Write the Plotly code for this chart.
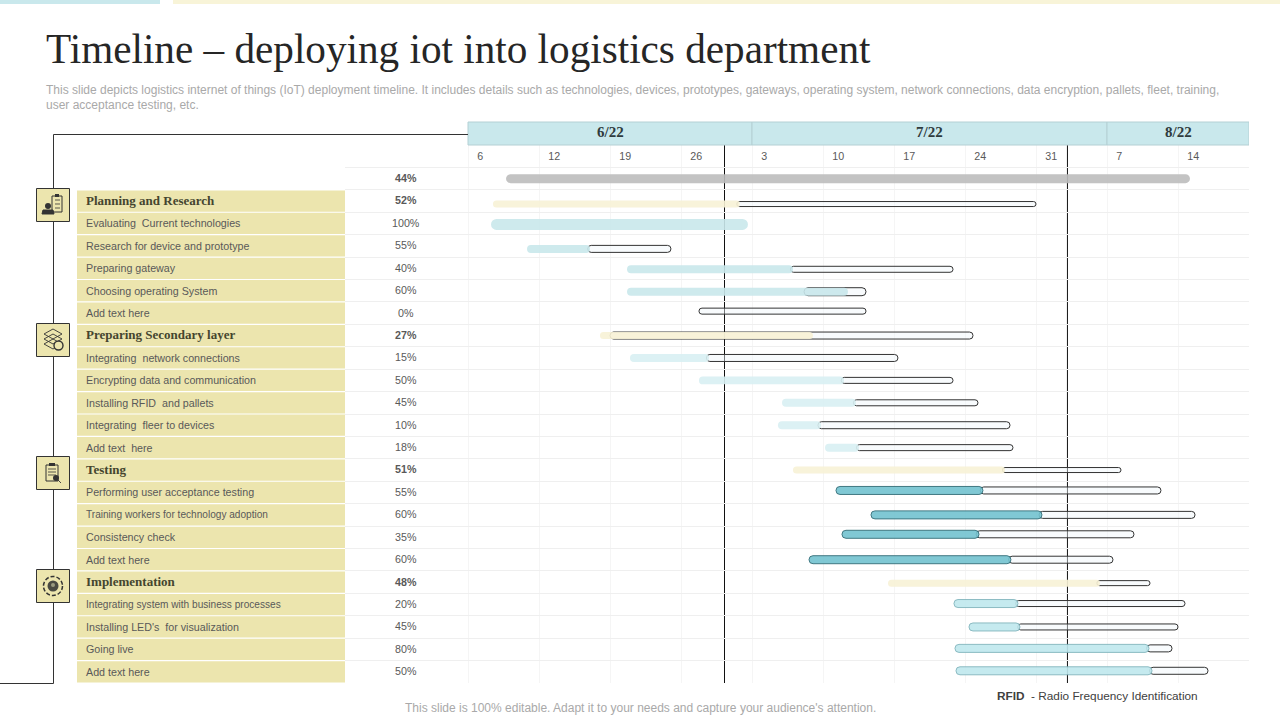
import plotly.graph_objects as go

# Rows of the gantt, top to bottom. Row 0 is the overall project bar
task_labels = [
    '', 'Planning and Research', 'Evaluating  Current technologies', 'Research for device and prototype',
    'Preparing gateway', 'Choosing operating System', 'Add text here', 'Preparing Secondary layer',
    'Integrating  network connections', 'Encrypting data and communication', 'Installing RFID  and pallets',
    'Integrating  fleer to devices', 'Add text  here', 'Testing', 'Performing user acceptance testing',
    'Training workers for technology adoption', 'Consistency check', 'Add text here', 'Implementation',
    'Integrating system with business processes', "Installing LED's  for visualization", 'Going live',
    'Add text here',
]
percent_labels = [
    '44%', '52%', '100%', '55%', '40%', '60%', '0%', '27%', '15%', '50%', '45%', '10%',
    '18%', '51%', '55%', '60%', '35%', '60%', '48%', '20%', '45%', '80%', '50%',
]
# Days counted from the first column of the calendar (6/22)
fill_start = [3.75, 2.46, 2.27, 5.82, 15.68, 15.68, 22.77, 13.01, 15.97, 22.77, 30.96, 30.56,
              35.2, 32.04, 36.28, 39.73, 36.87, 33.62, 41.41, 47.91, 49.39, 48.01, 48.11]
fill_end = [71.18, 26.8, 27.6, 12.03, 32.04, 37.46, 22.77, 34.01, 23.76, 37.07, 38.25, 34.8,
            38.55, 52.94, 50.77, 56.59, 50.38, 53.53, 62.31, 54.22, 54.42, 67.14, 67.44]
outline_start = [71.18, 26.5, 27.6, 11.8, 31.8, 33.13, 22.77, 14.0, 23.5, 36.8, 38.0, 34.5,
                 38.3, 52.7, 50.5, 56.3, 50.1, 53.3, 62.0, 54.0, 54.2, 66.9, 67.2]
outline_end = [71.18, 56.0, 27.6, 20.01, 47.82, 39.24, 39.24, 49.79, 42.39, 47.82, 50.28, 53.44,
               53.73, 64.38, 68.32, 71.68, 65.66, 63.59, 67.24, 70.69, 70.0, 69.41, 72.96]

week_days = [0, 7, 14, 21, 28, 35, 42, 49, 56, 63, 70, 77]
week_labels = ['6', '12', '19', '26', '3', '10', '17', '24', '31', '7', '14']
month_labels = ['6/22', '7/22', '8/22']
month_edges = [0, 28, 63, 77]
marker_days = [25.29, 59.10]

# Styles per row
gray, cream, blue, pale, teal, sky = '#bdbdbd', '#f8f2d6', '#c9e8ec', '#d9f0f3', '#73c3d0', '#bfe8ee'
fill_colors = [gray, cream, blue, blue, blue, blue, blue, cream, pale, pale, pale, pale, pale,
               cream, teal, teal, teal, teal, cream, sky, sky, sky, sky]
fill_lines = ['rgba(0,0,0,0)'] * 14 + ['#2c6a75'] * 4 + ['rgba(0,0,0,0)'] + ['#7fb4bc'] * 4
fill_px = [9, 7, 11, 8, 8, 8, 0, 7, 8, 8, 8, 8, 8, 7, 8, 8, 8, 8, 7, 8, 8, 8, 8]
outline_px = [0, 5, 0, 7, 6, 8, 6, 7, 7, 6, 6, 7, 6, 5, 7, 7, 7, 7, 5, 6, 6, 7, 7]
# The capsules do not sit exactly in the middle of their rows on the slide
nudge_px = [0, 3, 1, 3, 1, 1, -2, 0, 0, 0, 0, 0, 0, 0, -2, 0, -3, 0, 1, -1, 0, -1, -1]

W, H = 1280, 720
TOP, BOTTOM = 145, 683
ROW_PX = (BOTTOM - TOP) / 24
DAY_PX = 71 / 7
DARK = '#333333'
SAND = '#ece5ae'
GRID = '#f5f5f5'
TEXT_PAD = 2  # annotations keep this much room around their text


def px_x(x):
    return x / W


def px_y(y):
    return 1 - y / H


def day_of(x):
    return (x - 468) / DAY_PX


def box(x0, y0, x1, y1, fill='rgba(0,0,0,0)', line=None, width=1, kind='rect', dash='solid'):
    return dict(type=kind, xref='paper', yref='paper', x0=px_x(x0), x1=px_x(x1), y0=px_y(y0), y1=px_y(y1),
                fillcolor=fill, line=dict(color=line, width=width if line else 0, dash=dash), layer='above')


def poly(points, fill='rgba(0,0,0,0)', line=DARK, width=1, closed=False):
    path = 'M ' + ' L '.join(f'{px_x(x):.5f},{px_y(y):.5f}' for x, y in points) + (' Z' if closed else '')
    return dict(type='path', xref='paper', yref='paper', path=path, fillcolor=fill,
                line=dict(color=line, width=width), layer='above')


rows = list(range(len(task_labels)))
table_rows = rows[1:]
section_rows = [1, 7, 13, 18]

fig = go.Figure()

# Sand coloured cells behind the task names
fig.add_trace(go.Bar(x=[1] * len(table_rows), y=table_rows, width=0.95, orientation='h',
                     marker=dict(color=SAND, line=dict(width=0)), xaxis='x2', yaxis='y2', hoverinfo='skip'))

# Empty capsules for the whole duration
out_rows = [r for r in rows if outline_px[r] > 0]
fig.add_trace(go.Bar(
    y=[r + nudge_px[r] / ROW_PX for r in out_rows],
    base=[outline_start[r] for r in out_rows],
    x=[outline_end[r] - outline_start[r] for r in out_rows],
    width=[outline_px[r] / ROW_PX for r in out_rows],
    orientation='h',
    marker=dict(color='rgba(240,247,251,0.45)', line=dict(color=DARK, width=1), cornerradius='50%'),
    hoverinfo='skip',
))

# Filled part of each capsule
fill_rows = [r for r in rows if fill_px[r] > 0]
fig.add_trace(go.Bar(
    y=[r + nudge_px[r] / ROW_PX for r in fill_rows],
    base=[fill_start[r] for r in fill_rows],
    x=[fill_end[r] - fill_start[r] for r in fill_rows],
    width=[fill_px[r] / ROW_PX for r in fill_rows],
    orientation='h',
    marker=dict(color=[fill_colors[r] for r in fill_rows], opacity=0.9,
                line=dict(color=[fill_lines[r] for r in fill_rows], width=1), cornerradius='50%'),
    hoverinfo='skip',
))

shapes = []

# Top strip of the slide
shapes.append(box(0, 0, 160, 4, fill=blue))
shapes.append(box(173, 0, W, 4, fill='#f8f4d8'))

# Month header
for i in range(len(month_labels)):
    shapes.append(dict(type='rect', xref='x', yref='paper', x0=month_edges[i], x1=month_edges[i + 1],
                       y0=px_y(122), y1=px_y(145), fillcolor=blue, line=dict(color='#b4d0d4', width=1), layer='above'))

# Today style vertical markers
for d in marker_days:
    shapes.append(dict(type='line', xref='x', yref='y', x0=d, x1=d, y0=-1.5, y1=22.5,
                       line=dict(color='#111111', width=1), layer='below'))

# Bracket running from the header down the left side
shapes.append(poly([(468, 134.5), (53.5, 134.5), (53.5, 683.5), (0, 683.5)], width=1))

# Icon tiles
for top in [188, 323, 456, 569]:
    shapes.append(box(36.5, top + 0.5, 69.5, top + 33.5, fill=SAND, line=DARK))

# Icon 1: person and clipboard
shapes.append(box(52, 196, 62, 212, line=DARK))
shapes.append(box(55, 194, 59, 197, fill=DARK))
for y in [200, 204, 208]:
    shapes.append(poly([(55, y), (60, y)], width=0.8))
shapes.append(box(45, 203, 51, 209, fill=DARK, kind='circle'))
shapes.append(poly([(42, 214), (43, 210), (53, 210), (54, 214)], fill=DARK, closed=True))

# Icon 2: stacked layers and gear
for y in [334, 339, 344]:
    shapes.append(poly([(44, y), (53, y - 5), (62, y), (53, y + 5)], closed=True, width=0.9))
shapes.append(box(54, 341, 63, 350, fill=SAND, line=DARK, width=1.4, kind='circle'))

# Icon 3: checklist with lens
shapes.append(box(46, 465, 58, 481, line=DARK))
shapes.append(box(49, 463, 55, 466, fill=DARK))
for y in [469, 472, 475]:
    shapes.append(poly([(48, y), (56, y)], width=0.8))
shapes.append(box(53, 475, 59, 481, fill=DARK, kind='circle'))
shapes.append(poly([(58, 480), (61, 483)], width=0.9))

# Icon 4: bulb in a ring
shapes.append(box(43.5, 576.5, 62.5, 595.5, line=DARK, width=1.5, kind='circle', dash='4px,2px'))
shapes.append(box(47.5, 580.5, 58.5, 591.5, fill='#4a4a42', kind='circle'))
shapes.append(box(51, 583, 55, 587, fill='#9a9a80', kind='circle'))

annotations = []


def add_text(text, x, y, size, color='#595959', family='Liberation Sans', anchor='left', xref='paper', yref='paper',
             yshift=0):
    annotations.append(dict(text=text, x=x, y=y, xref=xref, yref=yref, xanchor=anchor, yanchor='middle',
                            showarrow=False, align='left', yshift=yshift,
                            font=dict(size=size, color=color, family=family)))


SERIF = 'Liberation Serif'
label_x = px_x(86 - TEXT_PAD)

# Task names and percentages
for r in rows:
    if r in section_rows:
        add_text(f'<b>{task_labels[r]}</b>', label_x, r, 13, color='#45452f', family=SERIF, yref='y', yshift=1)
    elif task_labels[r]:
        size = 10.1 if len(task_labels[r]) > 38 else 10.7
        add_text(task_labels[r], label_x, r, size, yref='y')
    pct = f'<b>{percent_labels[r]}</b>' if r in section_rows or r == 0 else percent_labels[r]
    add_text(pct, day_of(406), r, 10.7, anchor='center', xref='x', yref='y', yshift=0.6)

for i, label in enumerate(month_labels):
    add_text(f'<b>{label}</b>', (month_edges[i] + month_edges[i + 1]) / 2, px_y(132), 15, color='#2f3b3d',
             family=SERIF, anchor='center', xref='x')

add_text('This slide depicts logistics internet of things (IoT) deployment timeline. It includes details such as '
         'technologies, devices, prototypes, gateways, operating system, network connections, data encryption, '
         'pallets, fleet, training,', px_x(46 - TEXT_PAD), px_y(90), 12, color='#a9a9a9')
add_text('user acceptance testing, etc.', px_x(46 - TEXT_PAD), px_y(104.5), 12, color='#a9a9a9')
add_text('This slide is 100% editable. Adapt it to your needs and capture your audience\'s attention.',
         px_x(640), px_y(708), 12, color='#a9a9a9', anchor='center')
add_text('<b>RFID</b>  - Radio Frequency Identification', px_x(997 - TEXT_PAD), px_y(696), 11.8, color='#404040')

fig.update_layout(
    width=W,
    height=H,
    autosize=False,
    margin=dict(l=0, r=0, t=0, b=0),
    paper_bgcolor='white',
    plot_bgcolor='white',
    showlegend=False,
    barmode='overlay',
    title=dict(text='Timeline – deploying iot into logistics department', x=px_x(46), xanchor='left',
               y=px_y(49), yanchor='middle', font=dict(family=SERIF, size=41.2, color='#262626')),
    xaxis=dict(
        domain=[px_x(345), px_x(1249)],
        range=[day_of(345), day_of(1249)],
        side='top',
        anchor='y',
        showgrid=False,
        zeroline=False,
        showline=False,
        # invisible ticks only to push the labels down into the first row
        ticks='inside',
        ticklen=7,
        tickcolor='rgba(0,0,0,0)',
        tickmode='array',
        # labels start a little inside each calendar column
        tickvals=[d + (1.2 if len(t) == 1 else 1.5) for d, t in zip(week_days, week_labels)],
        ticktext=week_labels,
        ticklabelposition='inside',
        tickfont=dict(family='Liberation Sans', size=10.7, color='#595959'),
        minor=dict(tickmode='array', tickvals=week_days, showgrid=True, gridcolor=GRID, gridwidth=1, ticks=''),
    ),
    yaxis=dict(
        domain=[px_y(BOTTOM), px_y(TOP)],
        range=[22.5, -1.5],
        anchor='x',
        showticklabels=False,
        ticks='',
        zeroline=False,
        showline=False,
        tickmode='array',
        tickvals=[r - 0.5 for r in rows] + [22.5],
        showgrid=True,
        gridcolor='#efefef',
        gridwidth=1,
    ),
    xaxis2=dict(domain=[px_x(77), px_x(345)], range=[0, 1], anchor='y2', visible=False),
    yaxis2=dict(domain=[px_y(BOTTOM), px_y(TOP)], range=[22.5, -1.5], anchor='x2', visible=False),
    shapes=shapes,
    annotations=annotations,
)

# Page default margin would shift the slide by 8px
fig.write_html('out.html', config={'displayModeBar': False}, post_script="document.body.style.margin='0';")
